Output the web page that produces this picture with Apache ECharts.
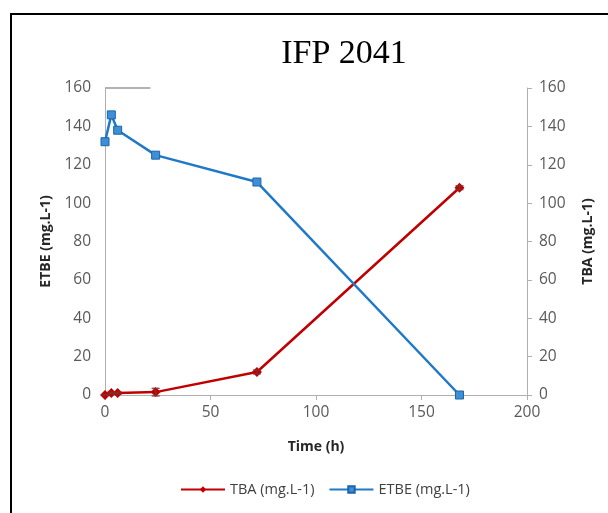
<!DOCTYPE html>
<html>
<head>
<meta charset="utf-8">
<script src="https://cdn.jsdelivr.net/npm/echarts@6/dist/echarts.min.js"></script>
<style>
  html, body { margin: 0; padding: 0; background: #fff; }
  #chart { width: 608px; height: 513px; }
</style>
</head>
<body>
<div id="chart"></div>
<script>
// sampling times (h)
var timeH = [0, 3, 6, 24, 72, 168];
// ETBE concentration (mg.L-1), left axis
var etbe = [132, 146, 138, 125, 111, 0];
// TBA concentration (mg.L-1), right axis
var tba = [0, 1, 1, 1.5, 12, 108];
// TBA error bars (low, high)
var tbaErrLow = [0, 0.5, 0.5, -0.5, 11, 107];
var tbaErrHigh = [0, 1.5, 1.5, 3.5, 13, 109];

var chart = echarts.init(document.getElementById("chart"));

var labelStyle = { color: "#595959", fontSize: 15.5, fontFamily: "Open Sans" };
var nameStyle = { color: "#262626", fontSize: 14, fontWeight: "bold", fontFamily: "Open Sans" };
var axisGrey = { color: "#b0b0b0", width: 1 };

chart.setOption({
  animation: false,
  title: {
    text: "IFP 2041",
    left: 339,
    top: 32,
    textAlign: "center",
    textStyle: { fontFamily: "Liberation Serif", fontWeight: "normal", fontSize: 34, color: "#000" }
  },
  legend: {
    bottom: 11,
    left: 175,
    itemWidth: 44,
    itemHeight: 8,
    itemGap: 14,
    textStyle: { color: "#404040", fontSize: 14.5, fontFamily: "Open Sans" },
    data: ["TBA (mg.L-1)", "ETBE (mg.L-1)"]
  },
  grid: { left: 105, right: 81, top: 88, bottom: 118 },
  xAxis: {
    type: "value",
    min: 0, max: 200, interval: 50,
    name: "Time (h)",
    nameLocation: "middle",
    nameGap: 45,
    nameTextStyle: nameStyle,
    axisLine: { show: true, lineStyle: axisGrey },
    axisTick: { show: true, length: 5, lineStyle: axisGrey },
    axisLabel: Object.assign({ margin: 10 }, labelStyle),
    splitLine: { show: false }
  },
  yAxis: [
    {
      type: "value",
      min: 0, max: 160, interval: 20,
      name: "ETBE (mg.L-1)",
      nameLocation: "middle",
      nameRotate: 90,
      nameGap: 50,
      nameTextStyle: nameStyle,
      axisLine: { show: true, lineStyle: axisGrey },
      axisTick: { show: false },
      axisLabel: Object.assign({ margin: 14 }, labelStyle),
      splitLine: { show: false }
    },
    {
      type: "value",
      position: "right",
      min: 0, max: 160, interval: 20,
      name: "TBA (mg.L-1)",
      nameLocation: "middle",
      nameRotate: 90,
      nameGap: 54,
      nameTextStyle: nameStyle,
      axisLine: { show: true, lineStyle: axisGrey },
      axisTick: { show: true, length: 5, inside: false, lineStyle: axisGrey },
      axisLabel: Object.assign({ margin: 12 }, labelStyle),
      splitLine: { show: false }
    }
  ],
  series: [
    {
      name: "TBA (mg.L-1)",
      type: "line",
      yAxisIndex: 1,
      data: timeH.map(function (t, i) { return [t, tba[i]]; }),
      symbol: "diamond",
      symbolSize: 10,
      lineStyle: { color: "#c00000", width: 2.5 },
      itemStyle: { color: "#c00000" },
      z: 3
    },
    {
      name: "TBA err",
      type: "custom",
      yAxisIndex: 1,
      data: timeH.map(function (t, i) { return [t, tbaErrLow[i], tbaErrHigh[i]]; }),
      renderItem: function (params, api) {
        var lo = api.coord([api.value(0), api.value(1)]);
        var hi = api.coord([api.value(0), api.value(2)]);
        var w = 4;
        var st = { stroke: "#7f3030", lineWidth: 1.2 };
        return {
          type: "group",
          children: [
            { type: "line", shape: { x1: lo[0], y1: lo[1], x2: hi[0], y2: hi[1] }, style: st },
            { type: "line", shape: { x1: lo[0] - w, y1: lo[1], x2: lo[0] + w, y2: lo[1] }, style: st },
            { type: "line", shape: { x1: hi[0] - w, y1: hi[1], x2: hi[0] + w, y2: hi[1] }, style: st }
          ]
        };
      },
      z: 4
    },
    {
      name: "ETBE (mg.L-1)",
      type: "line",
      yAxisIndex: 0,
      data: timeH.map(function (t, i) { return [t, etbe[i]]; }),
      symbol: "rect",
      symbolSize: 8,
      lineStyle: { color: "#1f78c8", width: 2.5 },
      itemStyle: { color: "#3f8fd6", borderColor: "#1a64aa", borderWidth: 1 },
      z: 3
    }
  ]
});

// outer frame and the short grey stub at the top of the left axis
var p0 = chart.convertToPixel({ xAxisIndex: 0, yAxisIndex: 0 }, [0, 160]);
var p1 = chart.convertToPixel({ xAxisIndex: 0, yAxisIndex: 0 }, [21.5, 160]);
chart.setOption({
  graphic: [
    {
      type: "rect",
      shape: { x: 11, y: 14, width: 620, height: 520 },
      style: { fill: "none", stroke: "#000", lineWidth: 2 }
    },
    {
      type: "line",
      shape: { x1: p0[0], y1: p0[1], x2: p1[0], y2: p1[1] },
      style: { stroke: "#999", lineWidth: 1.5 }
    }
  ]
});
</script>
</body>
</html>
